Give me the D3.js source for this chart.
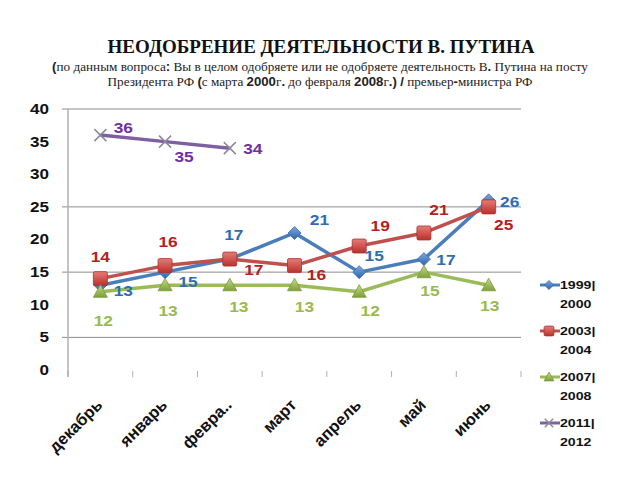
<!DOCTYPE html>
<html><head><meta charset="utf-8">
<script src="https://cdn.jsdelivr.net/npm/d3@7"></script>
<style>body{margin:0;background:#fff}svg{display:block}</style>
</head><body>
<svg id="c" width="640" height="480"></svg>
<script>
const categories = ["декабрь","январь","февра..","март","апрель","май","июнь"];
const s1999 = [13,15,17,21,15,17,26];
const s2003 = [14,16,17,16,19,21,25];
const s2007 = [12,13,13,13,12,15,13];
const s2011 = [36,35,34];
const seriesNames = [["1999|","2000"],["2003|","2004"],["2007|","2008"],["2011|","2012"]];
const yTicks = [0,5,10,15,20,25,30,35,40];
const gridValues = [5,15,25,40];

// layout: label offsets per point (dx,dy)
const off1999 = [[23,6],[23,10],[4,-24],[25,-13],[15,-16],[22,1],[21,2]];
const off2003 = [[0,-22],[3,-24],[24,11],[22,9],[21,-20],[15,-23],[15,18]];
const off2007 = [[3,29],[3,26],[9,22],[10,22],[11,19],[6,19],[1,21]];
const off2011 = [[23,-7],[19,15],[23,1]];

const svg = d3.select("#c");
const x = d3.scaleBand().domain(categories).range([68,521]);
const y = d3.scaleLinear().domain([0,40]).range([370,109]);
const cx = c => x(c) + x.bandwidth()/2;

const defs = svg.append("defs");
function grad(id,a,b){
  const g = defs.append("linearGradient").attr("id",id).attr("x1",0).attr("y1",0).attr("x2",0).attr("y2",1);
  g.append("stop").attr("offset","0%").attr("stop-color",a);
  g.append("stop").attr("offset","100%").attr("stop-color",b);
}
grad("gRed","#e87a76","#b8312c");
grad("gBlue","#7fa8dc","#2d65ad");
grad("gGreen","#c4dc8a","#7f9f3a");

const sans = "'Liberation Sans', Arial, sans-serif";
const serif = "'Liberation Serif', 'Times New Roman', serif";
svg.append("text").attr("x",321).attr("y",53).attr("text-anchor","middle")
  .attr("font-family",serif).attr("font-weight","bold").attr("font-size",19).attr("fill","#111")
  .text("НЕОДОБРЕНИЕ ДЕЯТЕЛЬНОСТИ В. ПУТИНА");

function richLine(yy, parts){
  const t = svg.append("text").attr("x",320).attr("y",yy).attr("text-anchor","middle")
    .attr("font-size",13.2).attr("fill","#222").attr("font-family",serif);
  parts.forEach(p=>{
    const ts = t.append("tspan").text(p[0]);
    if(p[1]) ts.attr("font-family",sans).attr("font-weight","bold");
  });
}
richLine(71,[["(",1],["по данным вопроса"],[":",1],[" Вы в целом одобряете или не одобряете деятельность В"],[".",1],[" Путина на посту"]]);
richLine(86,[["Президента РФ "],["(",1],["с марта "],["2000",1],["г",0],[".",1],[" до февраля "],["2008",1],["г",0],[".)",1],[" "],["/",1],[" премьер"],["-",1],["министра РФ"]]);

// gridlines
svg.append("g").selectAll("line").data(gridValues).join("line")
  .attr("x1",62).attr("x2",521).attr("y1",d=>y(d)).attr("y2",d=>y(d))
  .attr("stroke","#8c8c8c").attr("stroke-width",1);
svg.append("line").attr("x1",68).attr("x2",68).attr("y1",109).attr("y2",377).attr("stroke","#b0b0b0").attr("stroke-width",1.5);

// y tick labels (horizontally stretched like the reference)
svg.append("g").selectAll("text").data(yTicks).join("text")
  .attr("transform",d=>`translate(49,${y(d)}) scale(1.22,1)`)
  .attr("dy","0.35em").attr("text-anchor","end")
  .attr("font-family",sans).attr("font-weight","bold").attr("font-size",14).attr("fill","#111")
  .text(d=>d);

const bounds = d3.range(categories.length+1).map(i=>68 + i*x.step());
svg.append("g").selectAll("line").data(bounds).join("line")
  .attr("x1",d=>d).attr("x2",d=>d).attr("y1",371).attr("y2",377).attr("stroke","#b0b0b0");

svg.append("g").selectAll("text").data(categories).join("text")
  .attr("transform",d=>`translate(${cx(d)+3},${406}) rotate(-45)`)
  .attr("text-anchor","end").attr("font-family",sans).attr("font-weight","bold")
  .attr("font-size",16.5).attr("fill","#111").text(d=>d);

const series = [
  {vals:s1999, off:off1999, line:"#4a7ebb", lab:"#2e6db4", marker:"diamond", fill:"url(#gBlue)"},
  {vals:s2003, off:off2003, line:"#c0504d", lab:"#b3221e", marker:"square", fill:"url(#gRed)"},
  {vals:s2007, off:off2007, line:"#9bbb59", lab:"#98bb4f", marker:"triangle", fill:"url(#gGreen)"},
  {vals:s2011, off:off2011, line:"#7e5fa2", lab:"#7030a0", marker:"x", fill:"none"}
];

function drawMarker(g, type, px, py, fill, scale){
  scale = scale||1;
  if(type==="diamond"){
    const s=6.5*scale;
    g.append("path").attr("d",`M${px},${py-s}L${px+s},${py}L${px},${py+s}L${px-s},${py}Z`)
      .attr("fill",fill).attr("stroke","#3a6aa8").attr("stroke-width",0.8);
  } else if(type==="square"){
    const s=7*scale;
    g.append("rect").attr("x",px-s).attr("y",py-s).attr("width",2*s).attr("height",2*s).attr("rx",1.5)
      .attr("fill",fill).attr("stroke","#a8322e").attr("stroke-width",0.8);
  } else if(type==="triangle"){
    const s=7*scale;
    g.append("path").attr("d",`M${px},${py-s}L${px+s},${py+s*0.8}L${px-s},${py+s*0.8}Z`)
      .attr("fill",fill).attr("stroke","#7a9a3a").attr("stroke-width",0.8);
  } else {
    const s=6*scale;
    g.append("path").attr("d",`M${px-s},${py-s}L${px+s},${py+s}M${px+s},${py-s}L${px-s},${py+s}`)
      .attr("stroke","#8a8a9a").attr("stroke-width",1.5).attr("fill","none");
  }
}

const line = d3.line().x((d,i)=>cx(categories[i])).y(d=>y(d));
series.forEach(s=>{
  svg.append("path").datum(s.vals).attr("d",line).attr("fill","none")
    .attr("stroke",s.line).attr("stroke-width",3.5).attr("stroke-linejoin","round");
});
series.forEach(s=>{
  const g = svg.append("g");
  s.vals.forEach((v,i)=>drawMarker(g,s.marker,cx(categories[i]),y(v),s.fill));
});
series.forEach(s=>{
  svg.append("g").selectAll("text").data(s.vals).join("text")
    .attr("transform",(d,i)=>`translate(${cx(categories[i])+s.off[i][0]},${y(d)+s.off[i][1]}) scale(1.24,1)`)
    .attr("dy","0.35em").attr("text-anchor","middle")
    .attr("font-family",sans).attr("font-weight","bold").attr("font-size",14)
    .attr("fill",s.lab).text(d=>d);
});

// legend
const legY = [285,331,377,423];
series.forEach((s,i)=>{
  const g = svg.append("g");
  g.append("line").attr("x1",540).attr("x2",560).attr("y1",legY[i]).attr("y2",legY[i])
    .attr("stroke",s.line).attr("stroke-width",3);
  drawMarker(g,s.marker,549,legY[i],s.fill,0.7);
  [0,1].forEach(k=>{
    g.append("text").attr("transform",`translate(560,${legY[i]+k*18.5}) scale(1.2,1)`)
      .attr("dy","0.35em").attr("font-family",sans).attr("font-weight","bold")
      .attr("font-size",11.8).attr("fill","#111").text(seriesNames[i][k]);
  });
});
</script>
</body></html>
